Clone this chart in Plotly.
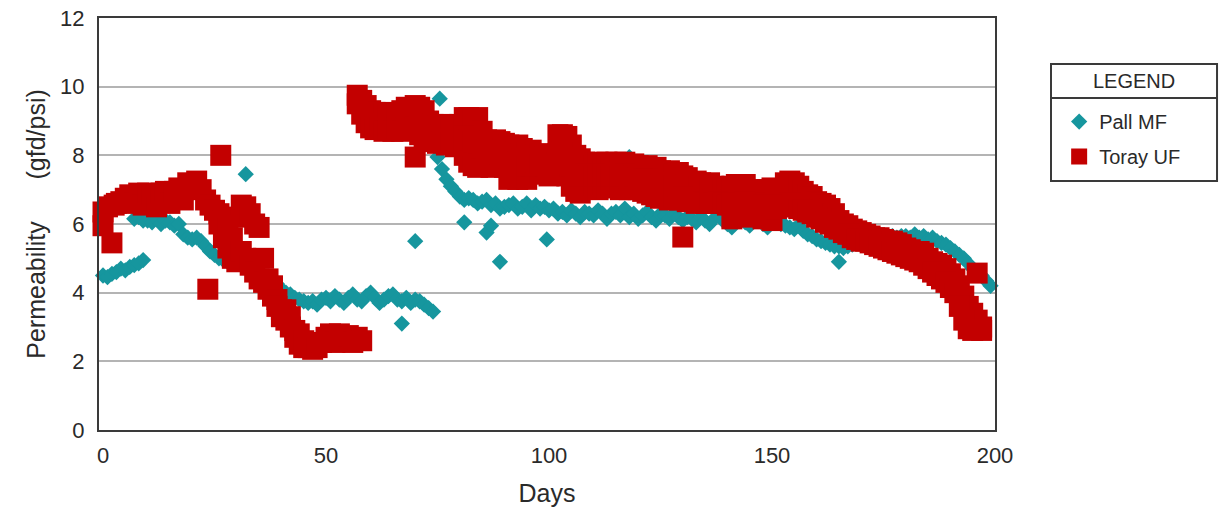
import plotly.graph_objects as go

# ---------------- data ----------------
# Pall MF (teal diamonds)
pall_days = (list(range(0, 10)) + list(range(7, 20)) + list(range(20, 32)) +
             list(range(32, 46)) + list(range(46, 75)) + list(range(75, 83)) +
             list(range(83, 101)) + list(range(101, 131)) + list(range(131, 161)) +
             list(range(161, 188)) + list(range(188, 200)))
pall_vals = [
    4.5, 4.45, 4.55, 4.6, 4.7, 4.65, 4.75, 4.8, 4.85, 4.95,
    6.15, 6.2, 6.1, 6.1, 6.05, 6.15, 6.0, 6.1, 6.05, 5.95, 6.0, 5.7, 5.6,
    5.55, 5.6, 5.5, 5.35, 5.2, 5.1, 5.0, 4.95, 4.9, 4.85, 4.85, 4.8,
    4.75, 4.75, 4.7, 4.6, 4.5, 4.45, 4.35, 4.25, 4.1, 4.0, 3.95, 3.85, 3.8, 3.75,
    3.7, 3.75, 3.65, 3.8, 3.85, 3.75, 3.9, 3.8, 3.7, 3.85, 3.95, 3.8, 3.75, 3.9, 4.0,
    3.85, 3.7, 3.8, 3.9, 3.95, 3.8, 3.75, 3.85, 3.7, 3.8, 3.75, 3.65, 3.55, 3.45,
    7.95, 7.6, 7.3, 7.1, 6.95, 6.8, 6.7, 6.75,
    6.7, 6.6, 6.65, 6.7, 6.55, 6.6, 6.45, 6.5, 6.55, 6.6, 6.45, 6.5, 6.6, 6.4, 6.55,
    6.45, 6.5, 6.4,
    6.45, 6.3, 6.35, 6.25, 6.4, 6.3, 6.2, 6.35, 6.3, 6.25, 6.4, 6.3, 6.15, 6.3, 6.35,
    6.25, 6.45, 6.2, 6.3, 6.15, 6.25, 6.35, 6.2, 6.1, 6.3, 6.25, 6.15, 6.3, 6.2, 6.1,
    6.2, 6.15, 6.05, 6.2, 6.1, 6.0, 6.15, 6.25, 6.1, 6.0, 5.9, 6.1, 6.2, 6.05, 5.95,
    6.1, 6.15, 6.0, 5.9, 6.05, 6.1, 6.0, 5.95, 5.9, 5.85, 5.95, 5.8, 5.7, 5.65, 5.55,
    5.5, 5.45, 5.4, 5.35, 5.35, 5.3, 5.35, 5.4, 5.45, 5.5, 5.5, 5.55, 5.55, 5.6, 5.6,
    5.6, 5.65, 5.6, 5.65, 5.65, 5.6, 5.7, 5.6, 5.65, 5.55, 5.6, 5.5,
    5.45, 5.4, 5.3, 5.2, 5.1, 5.0, 4.85, 4.7, 4.6, 4.5, 4.35, 4.2,
]
pall_out_days = [32, 67, 70, 75.5, 81, 86, 87, 89, 99.5, 118, 165]
pall_out_vals = [7.45, 3.1, 5.5, 9.65, 6.05, 5.75, 5.95, 4.9, 5.55, 7.95, 4.9]

# Toray UF (red squares)
toray_a_days = [0, 0, 1, 2, 2.5, 3, 4, 5, 6, 7, 8, 9, 10, 11, 12, 13, 14, 15, 16,
                17, 18, 19, 20, 21, 22, 23]
toray_a_vals = [5.95, 6.35, 6.5, 5.45, 6.55, 6.6, 6.65, 6.75, 6.85, 6.6, 6.9, 6.55,
                6.9, 6.85, 6.5, 6.9, 6.95, 6.6, 6.95, 7.05, 6.7, 7.2, 7.15, 7.25,
                7.0, 6.7]
toray_b_days = [24, 23.5, 25, 26, 26.4, 26, 27, 27, 28, 28, 29, 29, 30, 30, 31, 31,
                32, 32, 33, 33, 34, 34, 35, 35, 36, 36]
toray_b_vals = [6.55, 4.1, 6.4, 6.3, 8.0, 6.0, 6.1, 5.6, 5.85, 5.3, 5.6, 5.0, 6.2,
                4.9, 6.55, 5.2, 6.5, 5.0, 6.3, 4.8, 6.0, 4.6, 5.9, 4.4, 5.0, 4.3]
toray_c_days = [37, 37, 38, 38, 39, 39, 40, 40, 41, 41, 42, 42, 43, 43, 44, 44, 45,
                45, 46, 47, 48, 49, 50, 51, 52, 53, 54, 55, 56, 57, 58]
toray_c_vals = [4.4, 4.1, 4.2, 3.9, 3.8, 3.6, 3.5, 3.3, 3.2, 3.5, 3.0, 3.3, 2.9, 2.7,
                2.8, 2.5, 2.6, 2.4, 2.4, 2.35, 2.4, 2.55, 2.7, 2.8, 2.55, 2.8, 2.6,
                2.75, 2.55, 2.7, 2.6]
toray_d_days = list(range(57, 198))
toray_upper = [
    9.75, 9.6, 9.45, 9.3, 9.25, 9.2, 9.25, 9.2, 9.15, 9.2,
    9.3, 9.4, 9.35, 9.45, 9.4, 9.3, 9.0, 8.9, 8.85, 8.9,
    8.8, 8.85, 8.8, 8.9, 9.1, 9.1, 9.05, 9.1, 8.7, 8.45,
    8.4, 8.45, 8.4, 8.35, 8.3, 8.25, 8.3, 8.2, 8.1, 8.15,
    8.0, 8.05, 7.95, 7.95, 8.0, 8.6, 8.6, 8.55, 8.3, 8.0,
    7.9, 7.8, 7.75, 7.7, 7.8, 7.75, 7.8, 7.7, 7.8, 7.75,
    7.8, 7.7, 7.75, 7.7, 7.65, 7.7, 7.6, 7.65, 7.55, 7.5,
    7.55, 7.45, 7.5, 7.4, 7.35, 7.2, 7.25, 7.2, 7.15, 7.2,
    7.1, 7.05, 7.0, 7.05, 7.1, 7.15, 7.1, 7.15, 7.0, 6.95,
    7.0, 6.95, 7.0, 7.05, 6.95, 7.0, 7.2, 7.25, 7.2, 7.1,
    6.95, 6.85, 6.8, 6.65, 6.6, 6.55, 6.45, 6.3, 6.1, 6.0,
    5.95, 5.85, 5.8, 5.75, 5.7, 5.65, 5.6, 5.6, 5.55, 5.5,
    5.5, 5.45, 5.4, 5.3, 5.25, 5.2, 5.2, 5.15, 5.0, 4.9,
    4.85, 4.8, 4.7, 4.55, 4.4, 4.2, 3.9, 3.6, 3.4, 3.2,
    3.0,
]
toray_lower = [
    9.5, 9.2, 8.95, 8.8, 8.75, 8.8, 8.7, 8.75, 8.7, 8.8,
    8.7, 8.75, 8.8, 7.95, 8.6, 8.5, 8.4, 8.45, 8.35, 8.4,
    8.3, 8.4, 8.25, 8.3, 8.0, 7.8, 7.7, 7.65, 7.7, 7.9,
    7.65, 7.8, 7.7, 7.65, 7.3, 7.5, 7.3, 7.6, 7.3, 7.7,
    7.6, 7.5, 7.45, 7.4, 7.5, 7.55, 7.6, 7.4, 7.1, 6.95,
    6.9, 7.1, 7.05, 7.1, 7.0, 7.15, 7.05, 7.1, 7.2, 7.0,
    7.1, 7.0, 7.05, 7.0, 6.95, 6.9, 6.85, 6.8, 6.75, 6.8,
    6.7, 6.75, 6.7, 5.62, 6.65, 6.7, 6.6, 6.65, 6.6, 6.7,
    6.6, 6.65, 6.6, 6.55, 6.15, 6.3, 6.6, 6.2, 6.55, 6.6,
    6.5, 6.15, 6.5, 6.1, 6.45, 6.5, 6.55, 6.6, 6.5, 6.45,
    6.4, 6.35, 6.3, 6.2, 6.15, 6.05, 6.0, 5.9, 5.85, 5.75,
    5.7, 5.6, 5.55, 5.5, 5.5, 5.45, 5.4, 5.35, 5.3, 5.25,
    5.2, 5.15, 5.1, 5.05, 5.0, 4.95, 4.9, 4.8, 4.7, 4.6,
    4.5, 4.4, 4.3, 4.15, 4.0, 3.6, 3.2, 2.95, 2.9, 2.95,
    2.9,
]
toray_mid_days = list(range(81, 131))
toray_mid = [
    8.55, 8.45, 8.4, 8.35, 8.2, 8.15, 8.05, 8.1, 8.05, 8.0,
    7.8, 7.9, 7.8, 7.9, 7.7, 7.9, 7.8, 7.75, 7.7, 7.65,
    7.75, 8.05, 8.1, 7.95, 7.7, 7.5, 7.4, 7.45, 7.4, 7.4,
    7.4, 7.45, 7.4, 7.4, 7.5, 7.4, 7.45, 7.35, 7.4, 7.35,
    7.3, 7.3, 7.25, 7.2, 7.15, 7.15, 7.1, 7.1, 7.1, 6.8,
]
toray_extra_days = [70, 141, 144, 148, 150, 196]
toray_extra_vals = [8.8, 6.6, 6.65, 6.55, 6.55, 4.57]

x_ticks = [0, 50, 100, 150, 200]
y_ticks = [0, 2, 4, 6, 8, 10, 12]

TEAL = "#16969e"
RED = "#c30000"
FONT = "Liberation Sans, Arial, Helvetica, sans-serif"
TXT = "#2a2a2a"
FRAME = "#3a3a3a"

pall_x = pall_days + pall_out_days
pall_y = pall_vals + pall_out_vals
toray_x = (toray_a_days + toray_b_days + toray_c_days + toray_d_days + toray_d_days
           + toray_mid_days + toray_extra_days)
toray_y = (toray_a_vals + toray_b_vals + toray_c_vals + toray_upper + toray_lower
           + toray_mid + toray_extra_vals)

fig = go.Figure()
fig.add_trace(go.Scatter(
    x=pall_x, y=pall_y, mode="markers", name="Pall MF", legendgroup="a",
    marker=dict(symbol="diamond", size=12.5, color=TEAL, line=dict(width=0)),
    cliponaxis=False,
))
fig.add_trace(go.Scatter(
    x=toray_x, y=toray_y, mode="markers", name="Toray UF", legendgroup="b",
    marker=dict(symbol="square", size=21, color=RED, line=dict(width=0)),
    cliponaxis=False,
))

fig.update_layout(
    width=1230, height=513,
    margin=dict(l=99, r=235, t=18, b=83, autoexpand=False),
    paper_bgcolor="white", plot_bgcolor="white",
    font=dict(family=FONT, size=22, color=TXT),
    showlegend=True,
    legend=dict(
        x=1.0716, y=0.796, xanchor="left", yanchor="top",
        bgcolor="rgba(0,0,0,0)", borderwidth=0,
        font=dict(family=FONT, size=20, color=TXT),
        tracegroupgap=6,
    ),
    xaxis=dict(
        range=[-0.9, 200], tickvals=x_ticks, ticktext=[str(v) for v in x_ticks],
        showgrid=False, zeroline=False, automargin=False,
        showline=True, linecolor=FRAME, linewidth=2, mirror=True,
        ticks="", ticklabelstandoff=5,
        tickfont=dict(size=22),
        title=dict(text="Days", font=dict(size=25), standoff=17),
    ),
    yaxis=dict(
        range=[0, 12], tickvals=y_ticks, ticktext=[str(v) for v in y_ticks],
        showgrid=True, gridcolor="#b4b4b4", gridwidth=2,
        zeroline=False, automargin=False,
        showline=True, linecolor=FRAME, linewidth=2, mirror=True,
        ticks="", ticklabelstandoff=8,
        tickfont=dict(size=22),
        title=dict(text="Permeability\u00a0\u00a0\u00a0\u00a0\u00a0\u00a0(gfd/psi)",
                   font=dict(size=25), standoff=7),
    ),
)

# legend frame with title separator
fig.add_shape(type="rect", xref="paper", yref="paper",
              x0=1.0625, x1=1.2478, y0=0.6044, y1=0.8883,
              line=dict(color=FRAME, width=2), fillcolor="rgba(0,0,0,0)")
fig.add_shape(type="line", xref="paper", yref="paper",
              x0=1.0625, x1=1.2478, y0=0.8058, y1=0.8058,
              line=dict(color=FRAME, width=2))
fig.add_annotation(text="LEGEND", xref="paper", yref="paper",
                   x=1.1551, y=0.8471, xanchor="center", yanchor="middle",
                   showarrow=False, font=dict(family=FONT, size=20, color=TXT))

fig.write_html("out.html", config={"displayModeBar": False},
               post_script="document.body.style.margin='0px';")
